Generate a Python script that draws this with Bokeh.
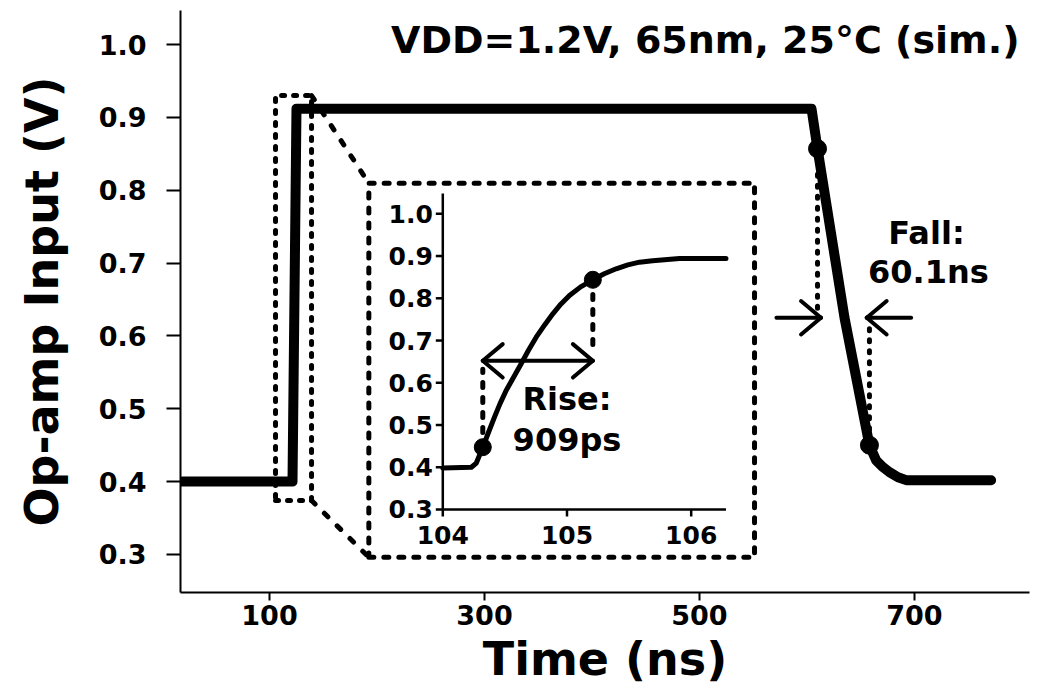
import numpy as np
from bokeh.plotting import figure
from bokeh.models import Range1d, FixedTicker, Label, PrintfTickFormatter
from bokeh.embed import file_html
from bokeh.resources import INLINE
from bokeh.core.properties import value

FONT = "DejaVu Sans"

# ---------------- data: main waveform ----------------
time_ns = [19.0, 121.4, 125.1, 604.2, 609.8, 634.9, 658.1, 664.4, 669.8, 676.7,
           684.7, 692.3, 771.3]
vin = [0.400, 0.400, 0.912, 0.912, 0.857, 0.625, 0.450, 0.429, 0.421, 0.413,
       0.406, 0.402, 0.402]
fall_pts_t = [609.8, 658.1]
fall_pts_v = [0.857, 0.450]
fall_ref_v = 0.625
fall_text = ["Fall:", "60.1ns"]
x_ticks = [100, 300, 500, 700]
y_ticks = [0.3, 0.4, 0.5, 0.6, 0.7, 0.8, 0.9, 1.0]
title_text = "VDD=1.2V, 65nm, 25°C (sim.)"

# ---------------- data: inset (zoom on the rising edge) ----------------
in_t = [104.00, 104.23, 104.27, 104.322, 104.37, 104.416, 104.46, 104.51, 104.57,
        104.631, 104.69, 104.752, 104.82, 104.886, 104.95, 105.02, 105.11,
        105.208, 105.30, 105.396, 105.49, 105.584, 105.69, 105.906, 106.28]
in_v = [0.398, 0.400, 0.410, 0.4475, 0.484, 0.5185, 0.550, 0.5817, 0.613,
        0.6449, 0.677, 0.7079, 0.737, 0.7633, 0.786, 0.8066, 0.827,
        0.8438, 0.858, 0.8698, 0.879, 0.8855, 0.889, 0.894, 0.894]
rise_pts_t = [104.322, 105.208]
rise_pts_v = [0.4475, 0.8438]
rise_ref_v = 0.652
rise_text = ["Rise:", "909ps"]
in_xticks = [104, 105, 106]
in_yticks = [0.3, 0.4, 0.5, 0.6, 0.7, 0.8, 0.9, 1.0]
in_x_end = 106.28
in_y_top = 1.048

# ---------------- figure ----------------
p = figure(frame_width=849, frame_height=582,
           x_range=Range1d(17.2, 807.0), y_range=Range1d(0.2478, 1.0467),
           min_border_left=180, min_border_right=10, min_border_top=10,
           min_border_bottom=0, output_backend="svg", toolbar_location=None,
           background_fill_color="white", border_fill_color="white")
p.outline_line_color = None
p.grid.visible = False

# inset coordinate system (maps the inset's own data into the frame)
p.extra_x_ranges = {"ix": Range1d(101.888, 108.724)}
p.extra_y_ranges = {"iy": Range1d(0.1035, 1.4813)}
IN = dict(x_range_name="ix", y_range_name="iy")

# axes
p.xaxis.ticker = FixedTicker(ticks=x_ticks)
p.yaxis.ticker = FixedTicker(ticks=y_ticks)
p.yaxis.formatter = PrintfTickFormatter(format="%.1f")
for ax in (p.xaxis[0], p.yaxis[0]):
    ax.axis_line_width = 2
    ax.major_tick_line_width = 2
    ax.major_tick_in = 0
    ax.minor_tick_out = 0
    ax.minor_tick_in = 0
    ax.major_label_text_font = FONT
    ax.major_label_text_font_style = "bold"
    ax.major_label_text_font_size = "27px"
    ax.major_label_text_color = "black"
    ax.axis_label_text_font = FONT
    ax.axis_label_text_font_style = "bold"
    ax.axis_label_text_font_size = "46px"
    ax.axis_label_text_color = "black"
p.xaxis.major_tick_out = 8
p.yaxis.major_tick_out = 14
p.xaxis.major_label_standoff = 4
p.yaxis.major_label_standoff = 20
p.xaxis.axis_label = "Time (ns)"
p.yaxis.axis_label = "Op-amp Input (V)"
p.xaxis.axis_label_standoff = 4
p.yaxis.axis_label_standoff = 27

HEAD_LEN = 26
HEAD_ANG = np.deg2rad(40)


def arrow_head(x, y, pointing_right, **kw):
    base = np.pi if pointing_right else 0.0
    p.ray(x=[x, x], y=[y, y], length=HEAD_LEN, length_units="screen",
          angle=[base + HEAD_ANG, base - HEAD_ANG], line_width=4,
          line_color="black", line_cap="round", **kw)


# main waveform
p.line(time_ns, vin, line_width=10, line_color="black",
       line_join="round", line_cap="round")
p.scatter(fall_pts_t, fall_pts_v, size=18, color="black")

# fall annotation
dot_style = dict(line_width=5, line_color="black", line_dash="2 9", line_cap="round")
p.line([fall_pts_t[0], fall_pts_t[0]], [fall_pts_v[0] - 0.035, fall_ref_v + 0.01], **dot_style)
p.line([fall_pts_t[1], fall_pts_t[1]], [fall_ref_v - 0.015, fall_pts_v[1] + 0.02], **dot_style)
l_tip, l_tail = fall_pts_t[0] + 3.2, fall_pts_t[0] - 38.2
r_tip, r_tail = fall_pts_t[1] - 2.5, fall_pts_t[1] + 38.8
p.line([l_tail, l_tip], [fall_ref_v, fall_ref_v], line_width=4, line_color="black", line_cap="round")
arrow_head(l_tip, fall_ref_v, True)
p.line([r_tail, r_tip], [fall_ref_v, fall_ref_v], line_width=4, line_color="black", line_cap="round")
arrow_head(r_tip, fall_ref_v, False)
p.text(x=[711.2, 713.0], y=[0.7406, 0.6878], text=fall_text,
       text_font=value(FONT), text_font_style="bold", text_font_size="32px",
       text_align="center", text_baseline="middle", text_color="black")

# zoom box around the rising edge and connectors to the inset
box_x0, box_x1, box_y0, box_y1 = 105.6, 139.1, 0.374, 0.930
ins_x0, ins_x1, ins_y0, ins_y1 = 192.4, 551.2, 0.2963, 0.8096
p.line([box_x0, box_x1, box_x1, box_x0, box_x0],
       [box_y0, box_y0, box_y1, box_y1, box_y0],
       line_width=5, line_color="black", line_dash="3 9",
       line_cap="round", line_join="round")
p.line([ins_x0, ins_x1, ins_x1, ins_x0, ins_x0],
       [ins_y0, ins_y0, ins_y1, ins_y1, ins_y0],
       line_width=5, line_color="black", line_dash="5 10",
       line_cap="round", line_join="round")
conn_style = dict(line_width=5, line_color="black", line_dash="5 13", line_cap="round")
p.line([box_x1, ins_x0], [box_y1, ins_y1], **conn_style)
p.line([box_x1, ins_x0], [box_y0, ins_y0], **conn_style)

# ---------------- inset ----------------
p.line([in_xticks[0], in_xticks[0], in_x_end], [in_y_top, in_yticks[0], in_yticks[0]],
       line_width=2.5, line_color="black", **IN)
p.ray(x=[in_xticks[0]] * len(in_yticks), y=in_yticks, length=7, length_units="screen",
      angle=np.pi, line_width=2.5, line_color="black", **IN)
p.ray(x=in_xticks, y=[in_yticks[0]] * len(in_xticks), length=7, length_units="screen",
      angle=-np.pi / 2, line_width=2.5, line_color="black", **IN)
p.text(x=[in_xticks[0]] * len(in_yticks), y=in_yticks,
       text=["%.1f" % v for v in in_yticks], x_offset=-10,
       text_font=value(FONT), text_font_style="bold", text_font_size="25px",
       text_align="right", text_baseline="middle", text_color="black", **IN)
p.text(x=in_xticks, y=[in_yticks[0]] * len(in_xticks),
       text=[str(t) for t in in_xticks], y_offset=17,
       text_font=value(FONT), text_font_style="bold", text_font_size="25px",
       text_align="center", text_baseline="top", text_color="black", **IN)

p.line(in_t, in_v, line_width=5, line_color="black", line_join="round",
       line_cap="round", **IN)
p.scatter(rise_pts_t, rise_pts_v, size=17, color="black", **IN)
rdot = dict(line_width=5, line_color="black", line_dash="5 10", line_cap="round")
p.line([rise_pts_t[0], rise_pts_t[0]], [rise_pts_v[0] + 0.035, rise_ref_v - 0.02], **rdot, **IN)
p.line([rise_pts_t[1], rise_pts_t[1]], [rise_pts_v[1] - 0.035, rise_ref_v + 0.02], **rdot, **IN)
p.line(rise_pts_t, [rise_ref_v, rise_ref_v], line_width=4, line_color="black",
       line_cap="round", **IN)
arrow_head(rise_pts_t[0], rise_ref_v, False, **IN)
arrow_head(rise_pts_t[1], rise_ref_v, True, **IN)
p.text(x=[105.0, 105.0], y=[0.5604, 0.4634], text=rise_text,
       text_font=value(FONT), text_font_style="bold", text_font_size="32px",
       text_align="center", text_baseline="middle", text_color="black", **IN)

# title
p.add_layout(Label(x=797.7, y=1.006, text=title_text, text_align="right",
                   text_baseline="middle", text_font=FONT,
                   text_font_style="bold", text_font_size="38px",
                   text_color="black"))

open("out.html", "w").write(file_html(p, INLINE))
